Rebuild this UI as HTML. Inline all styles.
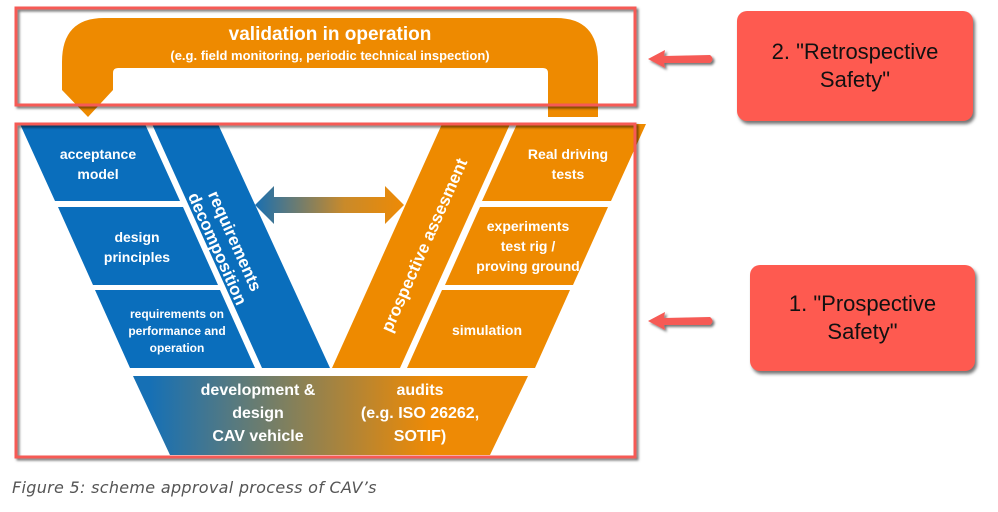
<!DOCTYPE html>
<html><head><meta charset="utf-8"><style>
html,body{margin:0;padding:0;background:#fff;}
body{width:998px;height:512px;overflow:hidden;position:relative;font-family:"Liberation Sans",sans-serif;}
.call{position:absolute;background:#fe5a50;border-radius:10px;box-shadow:2px 3px 3px rgba(0,0,0,0.55);display:flex;align-items:center;justify-content:center;text-align:center;font-size:22px;line-height:28px;color:#111;}
.cap{position:absolute;left:12px;top:478px;font-size:16px;font-style:italic;color:#555;font-family:"DejaVu Sans","Liberation Sans",sans-serif;font-weight:300;letter-spacing:0.3px;}
</style></head><body>
<svg width="998" height="512" style="position:absolute;left:0;top:0" font-family="'Liberation Sans Narrow','Liberation Sans',sans-serif">
<defs>
<linearGradient id="g1" x1="0" x2="1"><stop offset="0" stop-color="#1a6fb0"/><stop offset="0.6" stop-color="#c98a2a"/><stop offset="1" stop-color="#ee8a05"/></linearGradient>
<linearGradient id="g2" gradientUnits="userSpaceOnUse" x1="150" x2="430"><stop offset="0" stop-color="#1670b5"/><stop offset="0.5" stop-color="#82805c"/><stop offset="1" stop-color="#ee8a05"/></linearGradient>
<filter id="sh"><feDropShadow dx="2" dy="2" stdDeviation="1.2" flood-color="#000" flood-opacity="0.55"/></filter>
</defs>
<path d="M62,90 L62,62 Q62,18 104,18 L556,18 Q598,18 598,62 L598,117 L548,117 L548,73 Q548,68 543,68 L118,68 Q113,68 113,73 L113,90 L88,117 Z" fill="#ee8a00"/>
<text x="330" y="40" fill="#fff" font-size="19" font-weight="bold" text-anchor="middle">validation in operation</text>
<text x="330" y="60" fill="#fff" font-size="13" font-weight="bold" text-anchor="middle">(e.g. field monitoring, periodic technical inspection)</text>
<g fill="#0a6ebc">
<polygon points="20,124 145,124 180,201 55,201"/>
<polygon points="58,207 183,207 218,285 93,285"/>
<polygon points="95,290 220,290 255,368 130,368"/>
<polygon points="152,124 218,124 330,368 262,368"/>
</g>
<g fill="#ee8a00">
<polygon points="442,124 510,124 400,368 332,368"/>
<polygon points="517,124 646,124 611,201 482,201"/>
<polygon points="480,207 608,207 573,285 445,285"/>
<polygon points="442,290 570,290 535,368 407,368"/>
</g>
<polygon points="133,376 528,376 490,455 170,455" fill="url(#g2)"/>
<polygon points="255,205 274,186 274,197 385,197 385,186 404,205 385,224 385,213 274,213 274,224" fill="url(#g1)"/>
<g fill="#fff" font-weight="bold" text-anchor="middle">
<text font-size="14" x="98" y="159">acceptance</text><text font-size="14" x="98" y="179">model</text>
<text font-size="14" x="137" y="242">design</text><text font-size="14" x="137" y="262">principles</text>
<text font-size="12" x="177" y="318">requirements on</text><text font-size="12" x="177" y="335">performance and</text><text font-size="12" x="177" y="352">operation</text>
<text font-size="14" x="568" y="159">Real driving</text><text font-size="14" x="568" y="179">tests</text>
<text font-size="14" x="528" y="231">experiments</text><text font-size="14" x="528" y="251">test rig /</text><text font-size="14" x="528" y="271">proving ground</text>
<text font-size="14" x="487" y="335">simulation</text>
<text font-size="16" x="258" y="395">development &amp;</text><text font-size="16" x="258" y="418">design</text><text font-size="16" x="258" y="441">CAV vehicle</text>
<text font-size="16" x="420" y="395">audits</text><text font-size="16" x="420" y="418">(e.g. ISO 26262,</text><text font-size="16" x="420" y="441">SOTIF)</text>
<g transform="translate(226,245) rotate(66)"><text font-size="17" y="-4">requirements</text><text font-size="17" y="15">decomposition</text></g>
<g transform="translate(424,245) rotate(-66)"><text font-size="17" y="6">prospective assesment</text></g>
</g>
<g fill="none" stroke="#f65a55" stroke-width="3" filter="url(#sh)">
<rect x="16" y="8" width="619" height="97"/>
<rect x="16" y="124" width="619" height="333"/>
</g>
<g filter="url(#sh)" fill="#f65a55">
<path d="M648,59 L665,50 L664,56 L710,55 Q715,59 710,63 L664,63 L665,68 Z"/>
<path d="M648,321 L665,312 L664,318 L710,317 Q715,321 710,325 L664,325 L665,330 Z"/>
</g>
</svg>
<div class="call" style="left:737px;top:11px;width:236px;height:110px;">2. "Retrospective<br>Safety"</div>
<div class="call" style="left:750px;top:265px;width:225px;height:106px;">1. "Prospective<br>Safety"</div>
<div class="cap">Figure 5: scheme approval process of CAV’s</div>
</body></html>
